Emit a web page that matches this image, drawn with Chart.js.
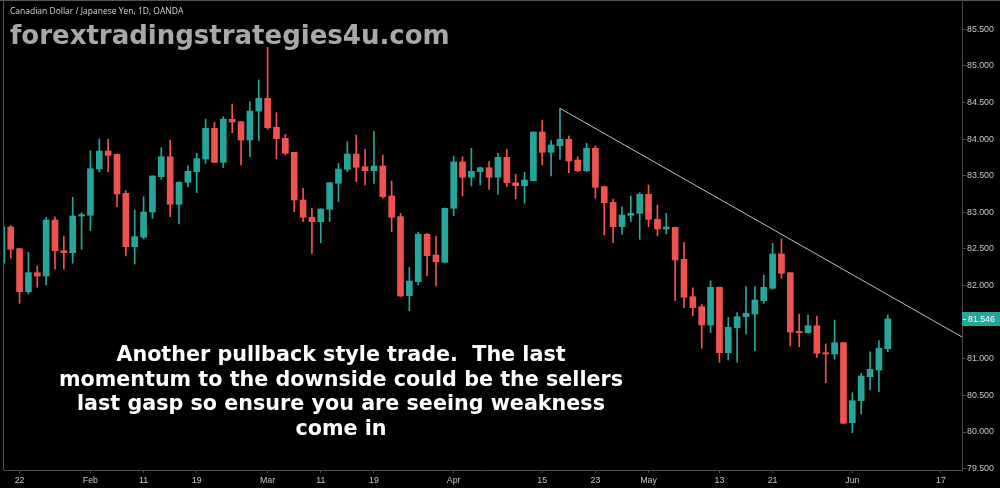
<!DOCTYPE html>
<html>
<head>
<meta charset="utf-8">
<script src="https://cdn.jsdelivr.net/npm/chart.js@4.4.1/dist/chart.umd.min.js"></script>
<style>
  html, body { margin: 0; padding: 0; background: #000; }
  #wrap { position: relative; width: 1000px; height: 488px; }
</style>
</head>
<body>
<div id="wrap"><canvas id="chart" width="1000" height="488"></canvas></div>
<script>
// ================ daily candles (bar index 0..100) ================
const opens = [
    82.305, 82.800, 82.504, 81.917, 82.176, 82.131, 82.896, 82.477, 82.450, 82.950,
    82.960, 83.592, 83.838, 83.793, 83.260, 82.531, 82.660, 83.005, 83.487, 83.760,
    83.110, 83.411, 83.556, 83.729, 84.148, 83.684, 84.271, 84.238, 83.988, 84.384,
    84.558, 84.162, 84.011, 83.820, 83.169, 82.933, 82.873, 83.042, 83.397, 83.588,
    83.797, 83.624, 83.569, 83.633, 83.224, 82.941, 81.862, 82.053, 82.701, 82.418,
    82.318, 83.056, 83.688, 83.479, 83.555, 83.610, 83.479, 83.752, 83.405, 83.364,
    83.433, 84.098, 83.820, 83.910, 83.998, 83.715, 83.569, 83.875, 83.351, 83.137,
    82.804, 82.960, 82.987, 83.247, 82.905, 82.773, 82.796, 82.359, 81.849, 81.712,
    81.462, 81.977, 81.084, 81.425, 81.575, 81.612, 81.794, 81.963, 82.432, 82.176,
    81.376, 81.357, 81.452, 81.084, 81.066, 81.221, 80.128, 80.428, 80.756, 80.847,
    81.138
];
const highs = [
    82.860, 82.820, 82.510, 82.455, 82.268, 82.933, 82.940, 82.668, 83.206, 82.996,
    83.842, 84.002, 84.000, 83.800, 83.296, 83.032, 83.214, 83.500, 83.883, 83.988,
    83.420, 83.637, 83.807, 84.275, 84.230, 84.307, 84.480, 84.240, 84.511, 84.808,
    85.254, 84.361, 84.066, 83.820, 83.329, 83.056, 83.050, 83.410, 83.670, 83.965,
    84.057, 83.861, 84.102, 83.783, 83.428, 82.987, 82.250, 82.728, 82.714, 82.677,
    83.060, 83.770, 83.760, 83.875, 83.620, 83.692, 83.807, 83.861, 83.520, 83.547,
    84.100, 84.261, 83.979, 84.421, 84.043, 83.760, 83.943, 83.910, 83.360, 83.183,
    83.077, 83.224, 83.269, 83.374, 83.101, 82.987, 82.800, 82.586, 81.971, 81.745,
    82.067, 81.980, 81.567, 81.630, 81.985, 81.985, 82.145, 82.578, 82.636, 82.180,
    81.612, 81.599, 81.585, 81.203, 81.530, 81.225, 80.538, 80.803, 81.097, 81.248,
    81.599
];
const lows = [
    82.220, 82.373, 81.758, 81.885, 81.977, 82.008, 82.223, 82.223, 82.305, 82.496,
    82.750, 83.555, 83.555, 83.077, 82.404, 82.295, 82.636, 82.919, 83.452, 82.941,
    82.841, 83.351, 83.269, 83.670, 83.680, 83.610, 84.088, 83.647, 83.760, 83.979,
    84.134, 83.729, 83.784, 83.009, 82.873, 82.441, 82.586, 82.873, 83.146, 83.555,
    83.419, 83.374, 83.397, 83.192, 82.736, 81.849, 81.657, 82.008, 82.135, 81.995,
    82.310, 82.955, 83.224, 83.360, 83.374, 83.315, 83.247, 83.351, 83.183, 83.124,
    83.430, 83.647, 83.497, 83.725, 83.542, 83.555, 83.555, 83.192, 82.691, 82.586,
    82.701, 82.873, 82.632, 82.804, 82.677, 82.705, 81.794, 81.698, 81.589, 81.144,
    81.357, 80.953, 80.984, 80.953, 81.339, 81.111, 81.758, 81.950, 82.100, 81.175,
    81.166, 81.349, 81.021, 80.674, 80.994, 80.110, 79.991, 80.247, 80.574, 80.551,
    81.097
];
const closes = [
    82.804, 82.496, 81.917, 82.176, 82.131, 82.896, 82.477, 82.450, 82.950, 82.968,
    83.596, 83.838, 83.779, 83.251, 82.531, 82.668, 83.005, 83.497, 83.760, 83.110,
    83.411, 83.561, 83.733, 84.148, 83.684, 84.271, 84.234, 83.988, 84.384, 84.558,
    84.156, 84.006, 83.807, 83.169, 82.933, 82.873, 83.046, 83.405, 83.592, 83.797,
    83.616, 83.569, 83.633, 83.214, 82.933, 81.858, 82.063, 82.701, 82.408, 82.326,
    83.056, 83.688, 83.479, 83.561, 83.610, 83.479, 83.752, 83.405, 83.364, 83.442,
    84.098, 83.820, 83.920, 83.998, 83.702, 83.569, 83.875, 83.342, 83.132, 82.804,
    82.964, 82.987, 83.247, 82.905, 82.773, 82.800, 82.350, 81.840, 81.698, 81.462,
    81.977, 81.084, 81.431, 81.575, 81.622, 81.803, 81.977, 82.432, 82.168, 81.366,
    81.357, 81.452, 81.076, 81.066, 81.221, 80.120, 80.428, 80.766, 80.857, 81.144,
    81.546
];

// ================ axes ================
const priceTicks = [79.5, 80, 80.5, 81, 81.5, 82, 82.5, 83, 83.5, 84, 84.5, 85, 85.5];
const dateTicks = [2, 10, 16, 22, 30, 36, 42, 51, 61, 67, 73, 81, 87, 96, 106];
const dateLabels = ['22', 'Feb', '11', '19', 'Mar', '11', '19', 'Apr', '15', '23', 'May', '13', '21', 'Jun', '17'];

// trend line drawn over the highs (bar index, price)
const trendLine = [{ x: 63, y: 84.421 }, { x: 108.5, y: 81.29 }];

const titleText = 'Canadian Dollar / Japanese Yen, 1D, OANDA';
const watermarkText = 'forextradingstrategies4u.com';
const noteLines = [
    'Another pullback style trade.  The last',
    'momentum to the downside could be the sellers',
    'last gasp so ensure you are seeing weakness',
    'come in'
];

const UP = '#26a69a';
const DOWN = '#ef5350';
const AXIS = '#4b4b4b';
const LABEL = '#c8c8c8';

// ================ build datasets ================
const colors = opens.map((o, i) => closes[i] >= o ? UP : DOWN);
const wickData = opens.map((o, i) => ({ x: i, y: [lows[i], highs[i]] }));
const bodyData = opens.map((o, i) => ({ x: i, y: [o, closes[i]] }));

const overlay = {
    id: 'overlay',
    beforeDraw(chart) {
        const ctx = chart.ctx;
        ctx.save();
        ctx.fillStyle = '#000';
        ctx.fillRect(0, 0, chart.width, chart.height);
        ctx.strokeStyle = '#555';
        ctx.lineWidth = 1;
        ctx.beginPath();
        ctx.moveTo(0, 0.5);
        ctx.lineTo(chart.width, 0.5);
        ctx.moveTo(chart.chartArea.left - 0.5, 0);
        ctx.lineTo(chart.chartArea.left - 0.5, chart.chartArea.bottom);
        ctx.stroke();
        ctx.restore();
    },
    afterDraw(chart) {
        const ctx = chart.ctx;
        const area = chart.chartArea;
        ctx.save();

        // header
        ctx.fillStyle = '#d6d6d6';
        ctx.font = '8.5px "Open Sans"';
        ctx.textAlign = 'left';
        ctx.textBaseline = 'alphabetic';
        ctx.fillText(titleText, 10, 14);

        ctx.fillStyle = '#a8a8a8';
        ctx.font = 'bold 26px "DejaVu Sans"';
        ctx.fillText(watermarkText, 10, 44);

        // comment
        ctx.fillStyle = '#ffffff';
        ctx.font = 'bold 20.7px "DejaVu Sans"';
        ctx.textAlign = 'center';
        noteLines.forEach((line, k) => {
            ctx.fillText(line, 341, 361 + k * 24.6);
        });

        // last price tag
        const last = closes[closes.length - 1];
        const yPix = chart.scales.y.getPixelForValue(last);
        ctx.fillStyle = UP;
        ctx.fillRect(area.right, Math.round(yPix) - 7, chart.width - area.right, 14);
        ctx.fillStyle = '#ffffff';
        ctx.fillRect(area.right + 1, Math.round(yPix), 3, 1);
        ctx.font = '8.8px "Liberation Sans"';
        ctx.textAlign = 'left';
        ctx.textBaseline = 'middle';
        ctx.fillText(last.toFixed(3), area.right + 6, Math.round(yPix) + 0.5);

        ctx.restore();
    }
};

const ctx = document.getElementById('chart').getContext('2d');
const myChart = new Chart(ctx, {
    type: 'bar',
    data: {
        datasets: [{
            label: 'wicks',
            data: wickData,
            backgroundColor: colors,
            barThickness: 1,
            grouped: false,
            borderWidth: 0,
            order: 2
        }, {
            label: 'bodies',
            data: bodyData,
            backgroundColor: colors,
            barThickness: 6,
            minBarLength: 1,
            grouped: false,
            borderWidth: 0,
            order: 1
        }, {
            type: 'line',
            label: 'trend',
            data: trendLine,
            borderColor: '#bdbdbd',
            borderWidth: 1,
            pointRadius: 0,
            fill: false,
            order: 0
        }]
    },
    options: {
        responsive: false,
        animation: false,
        devicePixelRatio: 1,
        layout: { padding: { left: 4, top: 0, right: 0, bottom: 0 } },
        plugins: {
            legend: { display: false },
            tooltip: { enabled: false }
        },
        scales: {
            x: {
                type: 'linear',
                min: 0.244,
                max: 108.38,
                offset: false,
                afterBuildTicks: s => { s.ticks = dateTicks.map(v => ({ value: v })); },
                afterFit: s => { s.height = 18; s.paddingLeft = 0; s.paddingRight = 0; },
                ticks: {
                    autoSkip: false,
                    maxRotation: 0,
                    color: LABEL,
                    padding: 2,
                    font: { family: 'Liberation Sans', size: 8.8 },
                    callback: (v, i) => dateLabels[i]
                },
                grid: { drawOnChartArea: false, offset: false, color: AXIS, tickLength: 3 },
                border: { color: AXIS }
            },
            y: {
                position: 'right',
                min: 79.482,
                max: 85.9,
                afterBuildTicks: s => { s.ticks = priceTicks.map(v => ({ value: v })); },
                afterFit: s => { s.width = 38; s.paddingTop = 0; s.paddingBottom = 0; },
                ticks: {
                    color: LABEL,
                    padding: 1,
                    font: { family: 'Liberation Sans', size: 8.8 },
                    callback: v => Number(v).toFixed(3)
                },
                grid: { drawOnChartArea: false, color: AXIS, tickLength: 4 },
                border: { color: AXIS }
            }
        }
    },
    plugins: [overlay]
});
</script>
</body>
</html>
